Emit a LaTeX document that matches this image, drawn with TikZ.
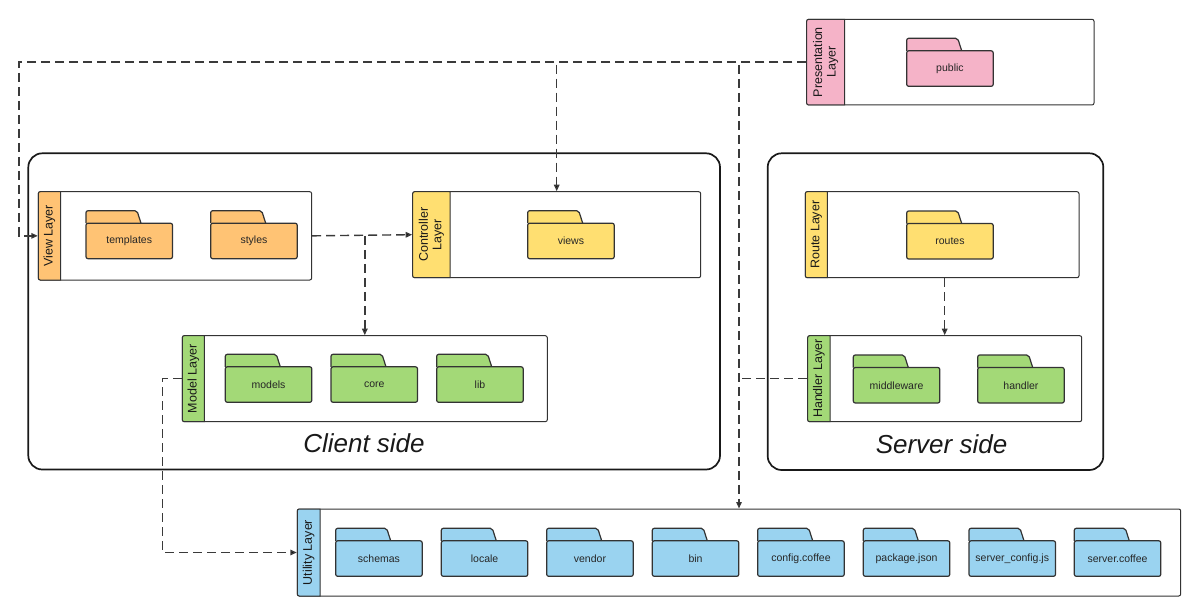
\documentclass[tikz,border=0pt]{standalone}
\usepackage{fontspec}
\setmainfont{Liberation Sans}
\usetikzlibrary{arrows.meta,fit}
\definecolor{corange}{HTML}{FFC374}
\definecolor{cyellow}{HTML}{FFDF71}
\definecolor{cgreen}{HTML}{A3D977}
\definecolor{cblue}{HTML}{9AD3F0}
\definecolor{cpink}{HTML}{F5B3C8}
\definecolor{cline}{HTML}{333333}
\definecolor{cdash}{HTML}{3A3A3A}
\tikzset{
  folderline/.style={draw=cline,line width=1.2pt,rounded corners=2pt},
  foldertext/.style={font=\fontsize{10.5}{12}\selectfont,text=black!85,inner sep=0pt},
  layerbox/.style={draw=cline,line width=1pt,fill=white,rounded corners=2pt,inner sep=0pt},
  bandline/.style={draw=cline,line width=1pt},
  layertext/.style={font=\fontsize{12.5}{13.5}\selectfont,rotate=90,align=center,inner sep=0pt,text=black!90},
  sidebox/.style={draw=black!90,line width=1.7pt,rounded corners=14pt,inner sep=0pt},
  sidetext/.style={font=\fontsize{26}{30}\selectfont\itshape,text=black!90,inner sep=0pt},
  dep/.style={draw=cdash,line width=1.4pt,dash pattern=on 9pt off 5pt},
  deparrow/.style={dep,-{Triangle[length=6.5pt,width=5.5pt,fill=black]}},
}
% folder: name, x, y (top-left of tab), fill, label
\newcommand{\fldr}[5]{%
  \draw[folderline,fill=#4] ({#2},{#3+12.5}) -- ({#2},{#3}) -- ({#2+51},{#3}) -- ({#2+55},{#3+12.5});
  \draw[folderline,fill=#4] ({#2},{#3+12.5}) rectangle ({#2+86.5},{#3+48});
  \node[foldertext] (#1) at ({#2+43.25},{#3+30.5}) {#5};
}
% layer: name, x1, y1, x2, y2, band right, fill, label
\newcommand{\lyr}[8]{%
  \node[layerbox,fit={(#2,#3) (#4,#5)}] (#1) {};
  \draw[bandline,fill=#7] ({#6},{#3}) [rounded corners=2pt] -- ({#2},{#3}) -- ({#2},{#5}) [sharp corners] -- ({#6},{#5}) -- cycle;
  \node[layertext] (#1-l) at ({(#2+#6)/2},{(#3+#5)/2}) {#8};
}
\begin{document}
\begin{tikzpicture}[x=1pt,y=-1pt]
\useasboundingbox (0,0) rectangle (1200,615);
% containers
\node[sidebox,fit={(28.3,153.3) (720,469.5)}] (client) {};
\node[sidebox,fit={(767.7,153.3) (1103.3,470)}] (server) {};
\node[sidetext] (clientt) at (364,443) {Client side};
\node[sidetext] (servert) at (941.5,444) {Server side};
% presentation
\lyr{pres}{806.7}{19.3}{1094}{105}{844.5}{cpink}{Presentation\\Layer}
\fldr{public}{906.7}{38.3}{cpink}{public}
% view
\lyr{view}{38.3}{191.7}{311.7}{280}{60.7}{corange}{View Layer}
\fldr{templates}{86}{210.7}{corange}{templates}
\fldr{styles}{210.7}{210.7}{corange}{styles}
% controller
\lyr{ctrl}{412.7}{191.7}{700.7}{277.7}{450}{cyellow}{Controller\\Layer}
\fldr{views}{527.7}{210.7}{cyellow}{views}
% model
\lyr{model}{182.3}{335.7}{547.3}{421.7}{204.3}{cgreen}{Model Layer}
\fldr{models}{225.3}{354.3}{cgreen}{models}
\fldr{core}{331}{354.3}{cgreen}{core}
\fldr{lib}{436.7}{354.3}{cgreen}{lib}
% route
\lyr{route}{805.3}{191.7}{1079}{277.7}{827.3}{cyellow}{Route Layer}
\fldr{routes}{906.7}{211}{cyellow}{routes}
% handler
\lyr{handler}{807.7}{335.7}{1081.7}{421.7}{830}{cgreen}{Handler Layer}
\fldr{middleware}{853.3}{355}{cgreen}{middleware}
\fldr{handlerf}{977.7}{355}{cgreen}{handler}
% utility
\lyr{util}{297.3}{509}{1180.7}{596}{320}{cblue}{Utility Layer}
\fldr{schemas}{335.7}{528.3}{cblue}{schemas}
\fldr{locale}{441.3}{528.3}{cblue}{locale}
\fldr{vendor}{546.7}{528.3}{cblue}{vendor}
\fldr{bin}{652.3}{528.3}{cblue}{bin}
\fldr{config}{757.7}{528.3}{cblue}{config.coffee}
\fldr{package}{863.3}{528.3}{cblue}{package.json}
\fldr{serverconfig}{969}{528.3}{cblue}{server\_config.js}
\fldr{servercoffee}{1074.3}{528.3}{cblue}{server.coffee}
% connectors
\coordinate (pv) at (19,0);
\draw[deparrow] (pres.west) -- (pv |- pres.west) -- (pv |- view.west) -- (view.west);
\draw[deparrow] (pres.west) -| (ctrl.north);
\draw[deparrow] (pres.west) -| (util.north);
\draw[deparrow] (view.east) -- (ctrl.west);
\draw[deparrow] (model.north |- view.east) -- (model.north);
\draw[deparrow] (handler.north |- route.south) -- (handler.north);
\draw[dep] (handler.west) -- (util.north |- handler.west);
\coordinate (mv) at (162.5,0);
\draw[deparrow] (model.west) -- (mv |- model.west) -- (mv |- util.west) -- (util.west);
\end{tikzpicture}
\end{document}
